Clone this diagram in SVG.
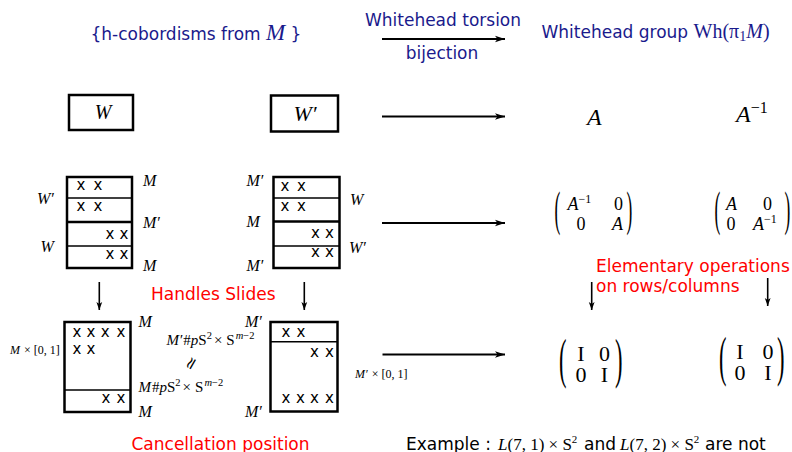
<svg xmlns="http://www.w3.org/2000/svg" width="792" height="452" viewBox="0 0 792 452">
<defs>
<marker id="ah" markerWidth="12" markerHeight="8" refX="10" refY="4" orient="auto" markerUnits="userSpaceOnUse"><path d="M0,0.7 L10,4 L0,7.3 L2.5,4 Z" fill="#000"/></marker>
<marker id="ahs" markerWidth="10" markerHeight="8" refX="8" refY="3.5" orient="auto" markerUnits="userSpaceOnUse"><path d="M0,0.6 L8,3.5 L0,6.4 L2,3.5 Z" fill="#000"/></marker>
</defs>
<style>
.sans{font-family:"DejaVu Sans",sans-serif;font-size:17px}
.blue{fill:#1a1a8c}
.red{fill:#ff0000}
.m{font-family:"Liberation Serif","DejaVu Serif",serif;font-style:italic}
.r{font-family:"Liberation Serif","DejaVu Serif",serif;font-style:normal}
.lb{font-size:16px}
.box{fill:#fff;stroke:#000;stroke-width:2.5}
.dv{stroke:#000;stroke-width:1.4}
.dk{stroke:#000;stroke-width:2.5}
.x{font-family:"DejaVu Sans",sans-serif;font-size:15px;fill:#000}
.arr{stroke:#000;stroke-width:2;fill:none;marker-end:url(#ah)}
.darr{stroke:#000;stroke-width:1.6;fill:none;marker-end:url(#ahs)}
.par{font-family:"Liberation Serif","DejaVu Serif",serif;font-weight:normal}
</style>

<g id="header">
<text class="sans blue" x="90.5" y="40">{h-cobordisms from <tspan class="m" font-size="23">M</tspan> }</text>
<text class="sans blue" x="443" y="26" text-anchor="middle">Whitehead torsion</text>
<text class="sans blue" x="442" y="59" text-anchor="middle">bijection</text>
<text class="sans blue" x="541.5" y="38">Whitehead group <tspan class="r" font-size="20">Wh(π</tspan><tspan class="r" font-size="14" dy="3">1</tspan><tspan class="m" font-size="20" dy="-3">M</tspan><tspan class="r" font-size="20">)</tspan></text>
</g>

<g id="node-W">
<rect class="box" x="69" y="95" width="64" height="35"/>
<text class="m" font-size="20" x="103" y="119" text-anchor="middle">W</text>
</g>
<g id="node-Wp">
<rect class="box" x="271" y="95.5" width="67" height="36"/>
<text class="m" font-size="22" x="305" y="121" text-anchor="middle">W′</text>
</g>
<g id="node-A">
<text class="m" font-size="24" x="587" y="125">A</text>
</g>
<g id="node-Ainv">
<text class="m" font-size="24" x="736" y="122">A<tspan class="r" font-size="16" dy="-9">−1</tspan></text>
</g>

<g id="node-stack-left">
<rect class="box" x="67" y="177" width="65" height="91"/>
<line class="dv" x1="67" y1="198" x2="132" y2="198"/>
<line class="dk" x1="67" y1="222" x2="132" y2="222"/>
<line class="dv" x1="67" y1="246" x2="132" y2="246"/>
<text class="x" x="76.5 93.5" y="190">xx</text>
<text class="x" x="76.5 93.5" y="211">xx</text>
<text class="x" x="105.5 119.5" y="238.5">xx</text>
<text class="x" x="105.5 119.5" y="258.5">xx</text>
<text class="m lb" x="143" y="186">M</text>
<text class="m lb" x="37" y="204">W′</text>
<text class="m lb" x="143" y="228">M′</text>
<text class="m lb" x="40.5" y="251.5">W</text>
<text class="m lb" x="143" y="271">M</text>
</g>

<g id="node-stack-right">
<rect class="box" x="273.5" y="177" width="66" height="91"/>
<line class="dv" x1="273.5" y1="198" x2="339.5" y2="198"/>
<line class="dk" x1="273.5" y1="221.5" x2="339.5" y2="221.5"/>
<line class="dv" x1="273.5" y1="246" x2="339.5" y2="246"/>
<text class="x" x="280.5 297" y="190.5">xx</text>
<text class="x" x="280.5 297" y="210.5">xx</text>
<text class="x" x="311 325" y="237.5">xx</text>
<text class="x" x="311 325" y="257">xx</text>
<text class="m lb" x="246.5" y="186">M′</text>
<text class="m lb" x="350" y="205">W</text>
<text class="m lb" x="246.5" y="227">M</text>
<text class="m lb" x="349" y="253">W′</text>
<text class="m lb" x="246.5" y="271">M′</text>
</g>

<g id="node-matrix1">
<text class="par" font-size="28" transform="translate(554.5,225) scale(0.62,1.7)">(</text>
<text class="m" font-size="18" x="567.5" y="210">A<tspan class="r" font-size="12" dy="-7">−1</tspan></text>
<text class="r" font-size="18" x="618.5" y="210" text-anchor="middle">0</text>
<text class="r" font-size="18" x="581" y="230" text-anchor="middle">0</text>
<text class="m" font-size="18" x="612" y="230">A</text>
<text class="par" font-size="28" transform="translate(626.5,225) scale(0.62,1.7)">)</text>
</g>

<g id="node-matrix2">
<text class="par" font-size="28" transform="translate(714.5,225) scale(0.62,1.7)">(</text>
<text class="m" font-size="18" x="726" y="210">A</text>
<text class="r" font-size="18" x="767.5" y="210" text-anchor="middle">0</text>
<text class="r" font-size="18" x="731" y="230" text-anchor="middle">0</text>
<text class="m" font-size="18" x="753" y="230">A<tspan class="r" font-size="12" dy="-7">−1</tspan></text>
<text class="par" font-size="28" transform="translate(784.5,225) scale(0.62,1.7)">)</text>
</g>

<g id="labels-red">
<text class="sans red" x="151" y="300">Handles Slides</text>
<text class="sans red" x="596" y="271.5">Elementary operations</text>
<text class="sans red" x="596" y="291.5">on rows/columns</text>
<text class="sans red" x="131.5" y="450">Cancellation position</text>
</g>

<g id="node-cancel-left">
<rect class="box" x="64.5" y="322" width="66" height="90"/>
<line class="dv" x1="64.5" y1="390" x2="130.5" y2="390"/>
<text class="x" x="72.5 86.5 100.8 116.5" y="336.5">xxxx</text>
<text class="x" x="72.5 86.5" y="353.5">xx</text>
<text class="x" x="101.5 116.5" y="402.5">xx</text>
<text class="m lb" x="138.5" y="327">M</text>
<text class="m lb" x="138.5" y="416.5">M</text>
<text class="m" font-size="12" x="10" y="353.5">M<tspan class="r" dx="1"> × [0, 1]</tspan></text>
<text class="m" font-size="15" x="138.5" y="391.5">M<tspan class="r" dx="1">#</tspan>p<tspan class="r">S</tspan><tspan class="r" font-size="10.5" dy="-6">2</tspan><tspan class="r" dy="6" dx="2">×</tspan><tspan class="r" dx="4">S</tspan><tspan font-size="10.5" dy="-6" dx="1">m</tspan><tspan class="r" font-size="10.5">−2</tspan></text>
</g>

<g id="node-diffeo">
<text class="m" font-size="15" x="166.5" y="345">M′<tspan class="r" dx="1">#</tspan>p<tspan class="r">S</tspan><tspan class="r" font-size="10.5" dy="-6">2</tspan><tspan class="r" dy="6" dx="2">×</tspan><tspan class="r" dx="4">S</tspan><tspan font-size="10.5" dy="-6" dx="1">m</tspan><tspan class="r" font-size="10.5">−2</tspan></text>
<text class="r" font-size="17" text-anchor="middle" transform="translate(191.5,363.5) rotate(-60)" y="5">≃</text>
</g>

<g id="node-cancel-right">
<rect class="box" x="270.5" y="322" width="67" height="89.5"/>
<line class="dv" x1="270.5" y1="341.7" x2="337.5" y2="341.7"/>
<text class="x" x="281.5 296.5" y="336.5">xx</text>
<text class="x" x="310 325" y="356.5">xx</text>
<text class="x" x="281.5 296 310 325" y="402.5">xxxx</text>
<text class="m lb" x="245" y="327">M′</text>
<text class="m lb" x="245" y="416.5">M′</text>
</g>

<g id="node-I1">
<text class="par" font-size="30" transform="translate(559,377) scale(0.75,1.8)">(</text>
<text class="r" font-size="22" x="581" y="361" text-anchor="middle">I</text>
<text class="r" font-size="22" x="604.5" y="361" text-anchor="middle">0</text>
<text class="r" font-size="22" x="581" y="382" text-anchor="middle">0</text>
<text class="r" font-size="22" x="604.5" y="382" text-anchor="middle">I</text>
<text class="par" font-size="30" transform="translate(615,377) scale(0.75,1.8)">)</text>
</g>

<g id="node-I2">
<text class="par" font-size="30" transform="translate(719,375) scale(0.75,1.8)">(</text>
<text class="r" font-size="22" x="740" y="359" text-anchor="middle">I</text>
<text class="r" font-size="22" x="768" y="359" text-anchor="middle">0</text>
<text class="r" font-size="22" x="740" y="380" text-anchor="middle">0</text>
<text class="r" font-size="22" x="768" y="380" text-anchor="middle">I</text>
<text class="par" font-size="30" transform="translate(777,375) scale(0.75,1.8)">)</text>
</g>

<g id="example">
<text class="sans" x="406" y="450" fill="#000">Example : </text>
<text class="m" font-size="17" x="498" y="450">L<tspan class="r">(7, 1) × S</tspan><tspan class="r" font-size="11" dy="-7">2</tspan></text>
<text class="sans" x="584" y="450" fill="#000">and</text>
<text class="m" font-size="17" x="620" y="450">L<tspan class="r">(7, 2) × S</tspan><tspan class="r" font-size="11" dy="-7">2</tspan></text>
<text class="sans" x="705" y="450" fill="#000">are not</text>
</g>

<g id="connectors">
<line class="arr" x1="382" y1="39" x2="505" y2="39"/>
<line class="arr" x1="382" y1="116.5" x2="505" y2="116.5"/>
<line class="arr" x1="382" y1="223" x2="505" y2="223"/>
<line class="arr" x1="382.5" y1="354.5" x2="505" y2="354.5"/>
<text class="m" font-size="12" x="355" y="378">M′<tspan class="r" dx="1"> × [0, 1]</tspan></text>
<line class="darr" x1="99.3" y1="282" x2="99.3" y2="310"/>
<line class="darr" x1="304.3" y1="282" x2="304.3" y2="310"/>
<line class="darr" x1="591.7" y1="282" x2="591.7" y2="310"/>
<line class="darr" x1="767.7" y1="278" x2="767.7" y2="306"/>
</g>
</svg>
